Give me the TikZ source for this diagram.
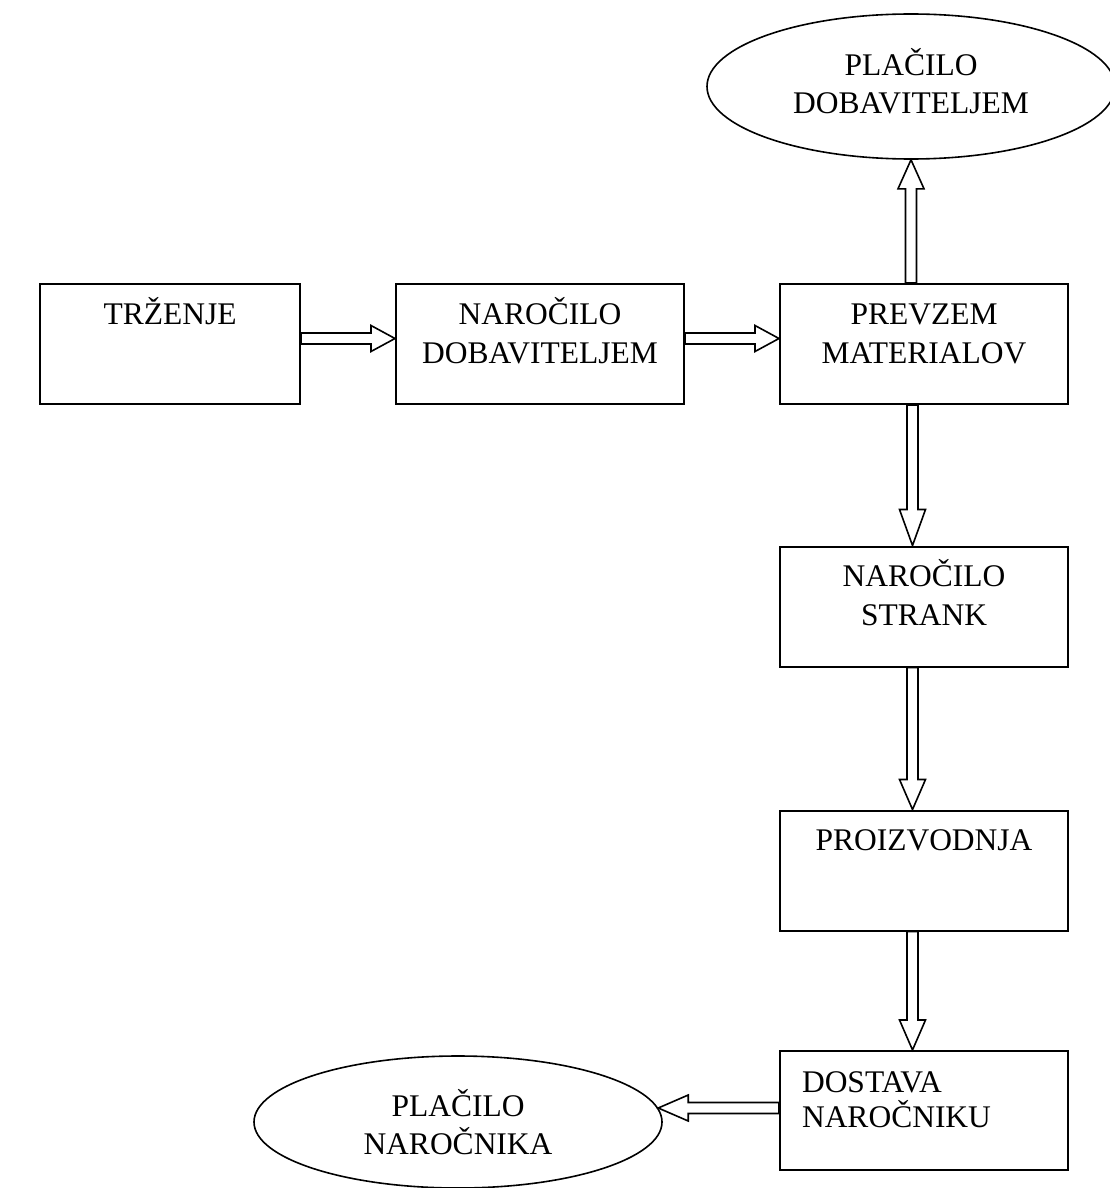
\documentclass[tikz,border=0pt]{standalone}
\usepackage{fontspec}
\setmainfont{Liberation Serif}
\usetikzlibrary{calc,shapes.geometric}
\newcommand{\stagetext}[2][144pt]{\parbox[c][60pt][t]{#1}{\centering\rule{0pt}{20pt}#2}}
\newcommand{\flowarrow}[3]{%
  \coordinate (fs) at (#1);
  \coordinate (ft) at (#2);
  \coordinate (fh) at ($(ft)!#3!(fs)$);
  \draw[flow] ($(fs)!2.75pt!90:(ft)$) -- ($(fh)!2.75pt!90:(ft)$) -- ($(fh)!6.5pt!90:(ft)$) -- (ft)
    -- ($(fh)!6.5pt!-90:(ft)$) -- ($(fh)!2.75pt!-90:(ft)$) -- ($(fs)!2.75pt!-90:(ft)$) -- cycle;}
\begin{document}
\begin{tikzpicture}[x=0.5pt,y=-0.5pt,
    stage/.style={draw, line width=1pt, inner sep=0pt, font=\fontsize{15.75pt}{19.5pt}\selectfont},
    goal/.style={draw, ellipse, line width=0.8pt, minimum width=204pt, minimum height=72.5pt,
      inner sep=0pt, align=center, font=\fontsize{15.75pt}{19pt}\selectfont},
    flow/.style={draw, line width=0.8pt, fill=white, line join=miter}]
  \useasboundingbox (0,0) rectangle (1109,1188);
  % boxes
  \node[stage] (trz) at (170,344) {\stagetext[130pt]{TRŽENJE}};
  \node[stage] (nard) at (540,344) {\stagetext{NAROČILO\\DOBAVITELJEM}};
  \node[stage] (prev) at (924,344) {\stagetext{PREVZEM\\MATERIALOV}};
  \node[stage] (nars) at (924,606.5) {\stagetext{NAROČILO\\STRANK}};
  \node[stage] (proi) at (924,870.5) {\stagetext{PROIZVODNJA}};
  \node[stage] (dost) at (924,1110.5) {\parbox[c][59.5pt][t]{144pt}{\raggedright\leftskip=11pt
    \baselineskip=17.5pt\rule{0pt}{20.5pt}DOSTAVA\\NAROČNIKU}};
  % payments
  \node[goal, text depth=6pt] (plad) at (911,86.5) {PLAČILO\\DOBAVITELJEM};
  \node[goal, minimum height=66pt] (plan) at (458,1122) {PLAČILO\\NAROČNIKA};
  \coordinate (row) at (0,338.5);
  \coordinate (col) at (912.5,0);
  % arrows
  \flowarrow{trz.east |- row}{nard.west |- row}{12pt}
  \flowarrow{nard.east |- row}{prev.west |- row}{12pt}
  \flowarrow{plad.south |- prev.north}{plad.south}{14.5pt}
  \flowarrow{prev.south -| col}{nars.north -| col}{18pt}
  \flowarrow{nars.south -| col}{proi.north -| col}{15pt}
  \flowarrow{proi.south -| col}{dost.north -| col}{15pt}
  \flowarrow{dost.west |- plan.4}{plan.4}{15pt}
\end{tikzpicture}
\end{document}
